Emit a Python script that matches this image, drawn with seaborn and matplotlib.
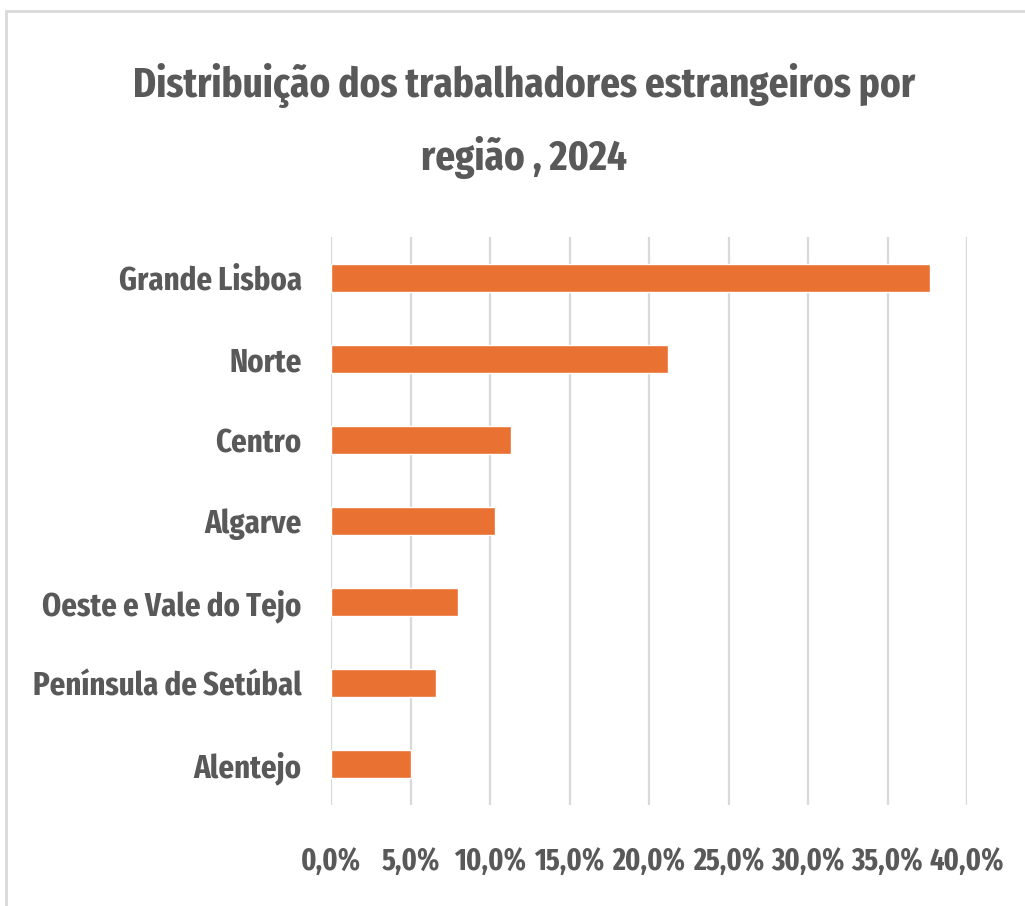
import matplotlib
matplotlib.use("Agg")
import matplotlib.pyplot as plt
import seaborn as sns
import pandas as pd
from matplotlib.patches import Rectangle

# ── data ─────────────────────────────────────────────
regioes = ['Grande Lisboa', 'Norte', 'Centro', 'Algarve',
           'Oeste e Vale do Tejo', 'Península de Setúbal', 'Alentejo']
percentagens = [37.7, 21.2, 11.3, 10.3, 8.0, 6.6, 5.0]
x_ticks = [0, 5, 10, 15, 20, 25, 30, 35, 40]
x_tick_labels = ['0,0%', '5,0%', '10,0%', '15,0%', '20,0%',
                 '25,0%', '30,0%', '35,0%', '40,0%']
titulo_l1 = 'Distribuição dos trabalhadores estrangeiros por'
titulo_l2 = 'região , 2024'

df = pd.DataFrame({'regiao': regioes, 'pct': percentagens})

# ── style ────────────────────────────────────────────
sns.set_style('white')
plt.rcParams['font.family'] = ['Fira Sans Extra Condensed', 'Roboto Condensed', 'DejaVu Sans']
plt.rcParams['font.weight'] = 'bold'
texto = '#595959'
laranja = '#E97132'
grelha = '#D9D9D9'

fig = plt.figure(figsize=(10.25, 9.06), dpi=100)
ax = fig.add_axes([331 / 1025, 1 - 805 / 906, (967 - 331) / 1025, (805 - 237) / 906])

sns.barplot(data=df, x='pct', y='regiao', color=laranja, width=0.345,
            saturation=1, ax=ax, orient='h')

ax.set_xlim(0, 40)
ax.set_ylim(6.5, -0.5)
ax.set_xticks(x_ticks)
ax.set_xticklabels(x_tick_labels)
ax.xaxis.grid(True, color=grelha, linewidth=1.6)
ax.set_axisbelow(True)
for s in ax.spines.values():
    s.set_visible(False)
ax.set_xlabel('')
ax.set_ylabel('')
ax.tick_params(axis='x', length=0, pad=30, labelsize=22, labelcolor=texto)
ax.tick_params(axis='y', length=0, pad=21, labelsize=24, labelcolor=texto)

# title, two lines
fig.text(524 / 1025, 1 - 97 / 906, titulo_l1, ha='center', va='baseline',
         fontsize=30.5, color=texto, fontweight='bold')
fig.text(524 / 1025, 1 - 170 / 906, titulo_l2, ha='center', va='baseline',
         fontsize=30.5, color=texto, fontweight='bold')

# chart frame
fig.patches.append(Rectangle((6 / 1025, -0.2), 1.2, 1 - 11 / 906 + 0.2,
                             transform=fig.transFigure, fill=False,
                             edgecolor=grelha, linewidth=2))

plt.savefig('out.png', dpi=100)
